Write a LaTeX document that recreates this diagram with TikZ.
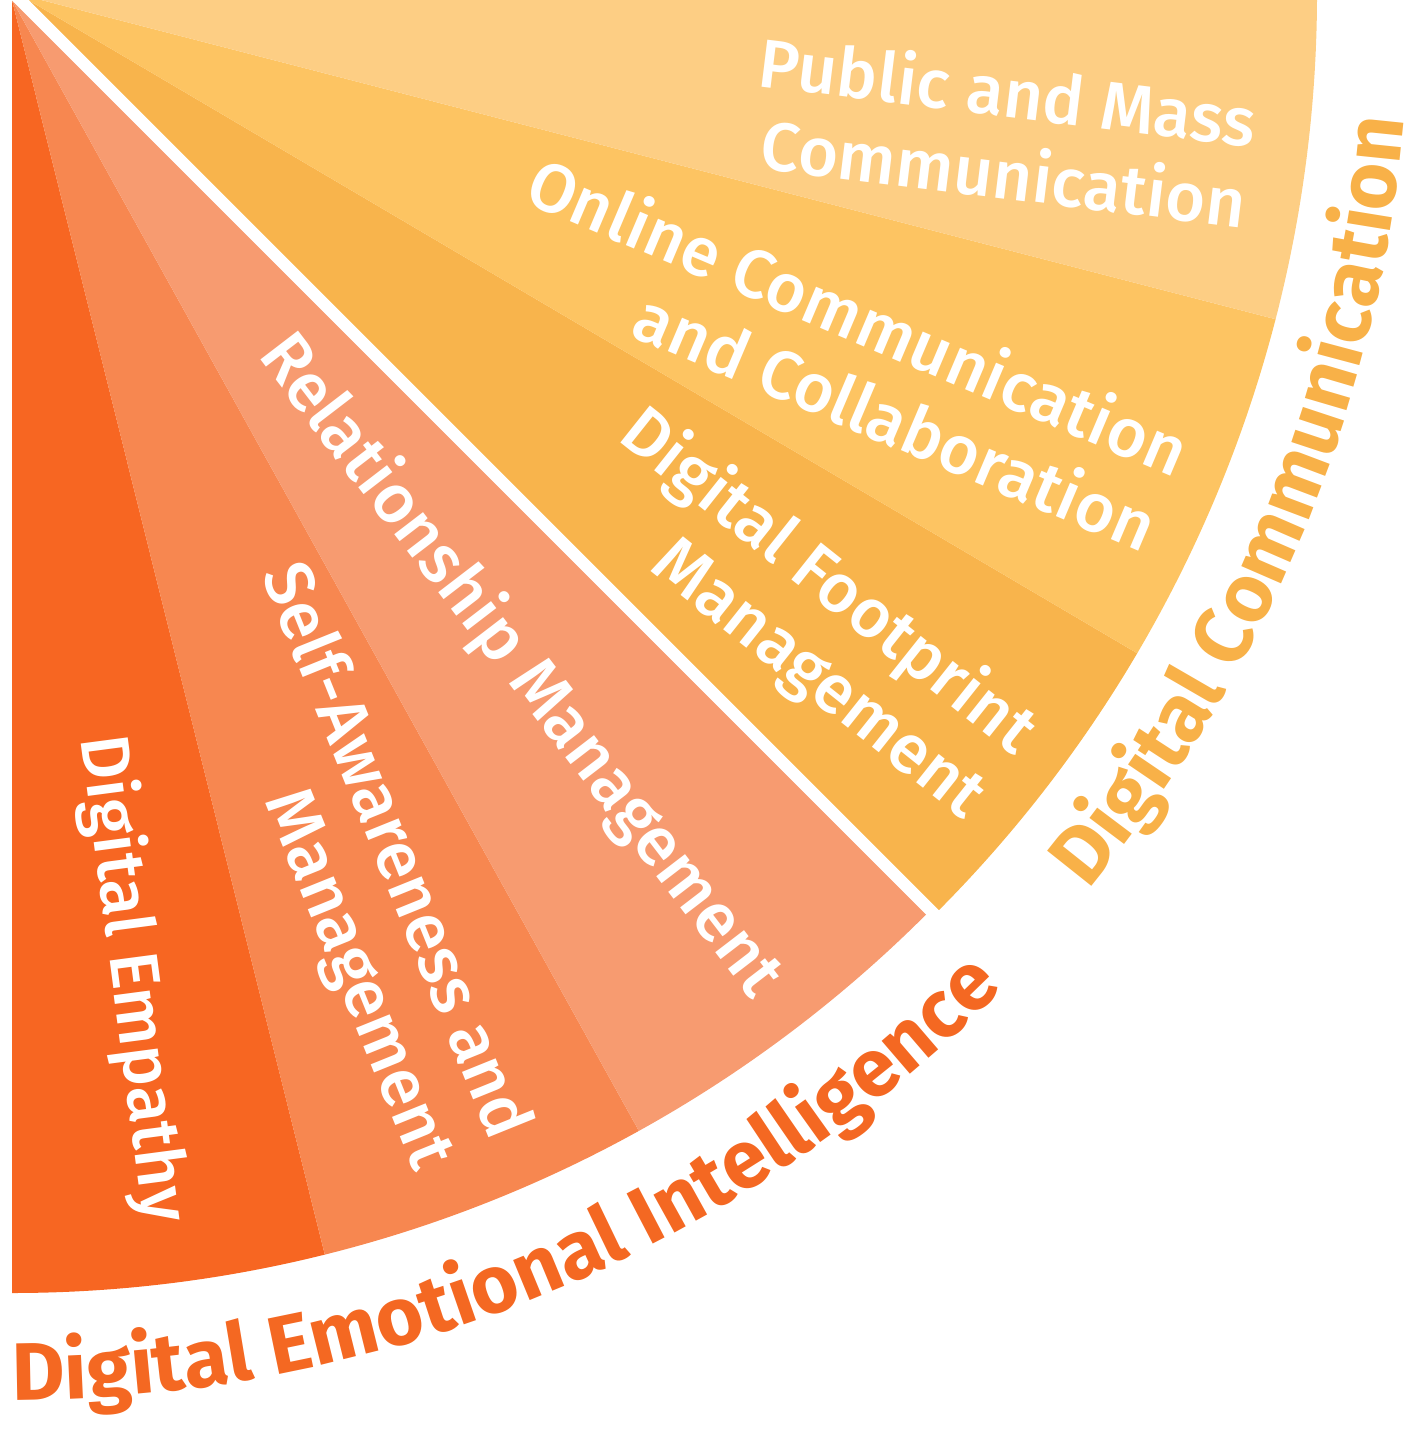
\documentclass[tikz,border=0pt]{standalone}
\usepackage{fontspec}
\setmainfont{Fira Sans}
\IfFontExistsTF{Fira Sans Medium}
    {\newfontfamily\wedgefont{Fira Sans Medium}}
    {\newfontfamily\wedgefont{Fira Sans}[FakeBold=1.5]}
\usetikzlibrary{decorations.text}

\definecolor{empathyorange}{HTML}{F76622}
\definecolor{selforange}{HTML}{F78750}
\definecolor{relationorange}{HTML}{F79B70}
\definecolor{footprintyellow}{HTML}{F8B44C}
\definecolor{onlineyellow}{HTML}{FDC462}
\definecolor{publicyellow}{HTML}{FDCE84}
\definecolor{emotionaltitle}{HTML}{F46822}
\definecolor{commtitle}{HTML}{F8B148}

\begin{document}
\begin{tikzpicture}[
        x=0.01cm, y=0.01cm,
        wedgetext/.style={text=white, font=\wedgefont\fontsize{19.5}{23.2}\selectfont,
            align=right, anchor=east, inner sep=0pt},
        gap/.style={white, line width=0.12cm}
        ]

        \useasboundingbox (-12,0) rectangle (1410,-1440);

        % Centres of the two halves of the fan
        \coordinate (O) at (0,0);
        \coordinate (O2) at (6,6);

        % Emotional intelligence wedges
        \fill[empathyorange] (O) -- ++(-90:1293) arc[start angle=-90, end angle=-76, radius=1293] -- cycle;
        \fill[selforange] (O) -- ++(-76:1293) arc[start angle=-76, end angle=-61, radius=1293] -- cycle;
        \fill[relationorange] (O) -- ++(-61:1293) arc[start angle=-61, end angle=-45, radius=1293] -- cycle;

        % Communication wedges
        \fill[footprintyellow] (O2) -- ++(-45:1299) arc[start angle=-45, end angle=-30.5, radius=1299] -- cycle;
        \fill[onlineyellow] (O2) -- ++(-30.5:1299) arc[start angle=-30.5, end angle=-14.5, radius=1299] -- cycle;
        \fill[publicyellow] (O2) -- ++(-14.5:1299) arc[start angle=-14.5, end angle=0, radius=1299] -- cycle;

        % white cut between the halves
        \draw[gap] (-10,18) -- ++(-45:1330);

        % Nodes
        \node[wedgetext, rotate=-7] (public) at (-7.4:1250) {Public and Mass\\Communication};
        \node[wedgetext, rotate=-23] (online) at (-23:1258) {Online Communication\\and Collaboration};
        \node[wedgetext, rotate=-38.5] (footprint) at (-38:1256) {Digital Footprint\\Management};
        \node[wedgetext, rotate=-52.5] (relationship) at (-52.6:1245) {Relationship Management};
        \node[wedgetext, rotate=-68] (selfaware) at (-68.3:1240) {Self-Awareness and\\Management};
        \node[wedgetext, rotate=-82.5] (empathy) at (-82.9:1232) {Digital Empathy};

        % Titles round the rim
        \path[decorate, decoration={text along path, text color=emotionaltitle,
                text={|\bfseries\fontsize{23.2}{28}\selectfont|Digital Emotional Intelligence}}]
            (-90:1400) arc[start angle=-90, end angle=-36, radius=1400];
        \path[decorate, decoration={text along path, text color=commtitle,
                text={|\bfseries\fontsize{23.2}{28}\selectfont|Digital Communication}}]
            (-39.6:1397) arc[start angle=-39.6, end angle=0, radius=1397];

    \end{tikzpicture}
\end{document}
